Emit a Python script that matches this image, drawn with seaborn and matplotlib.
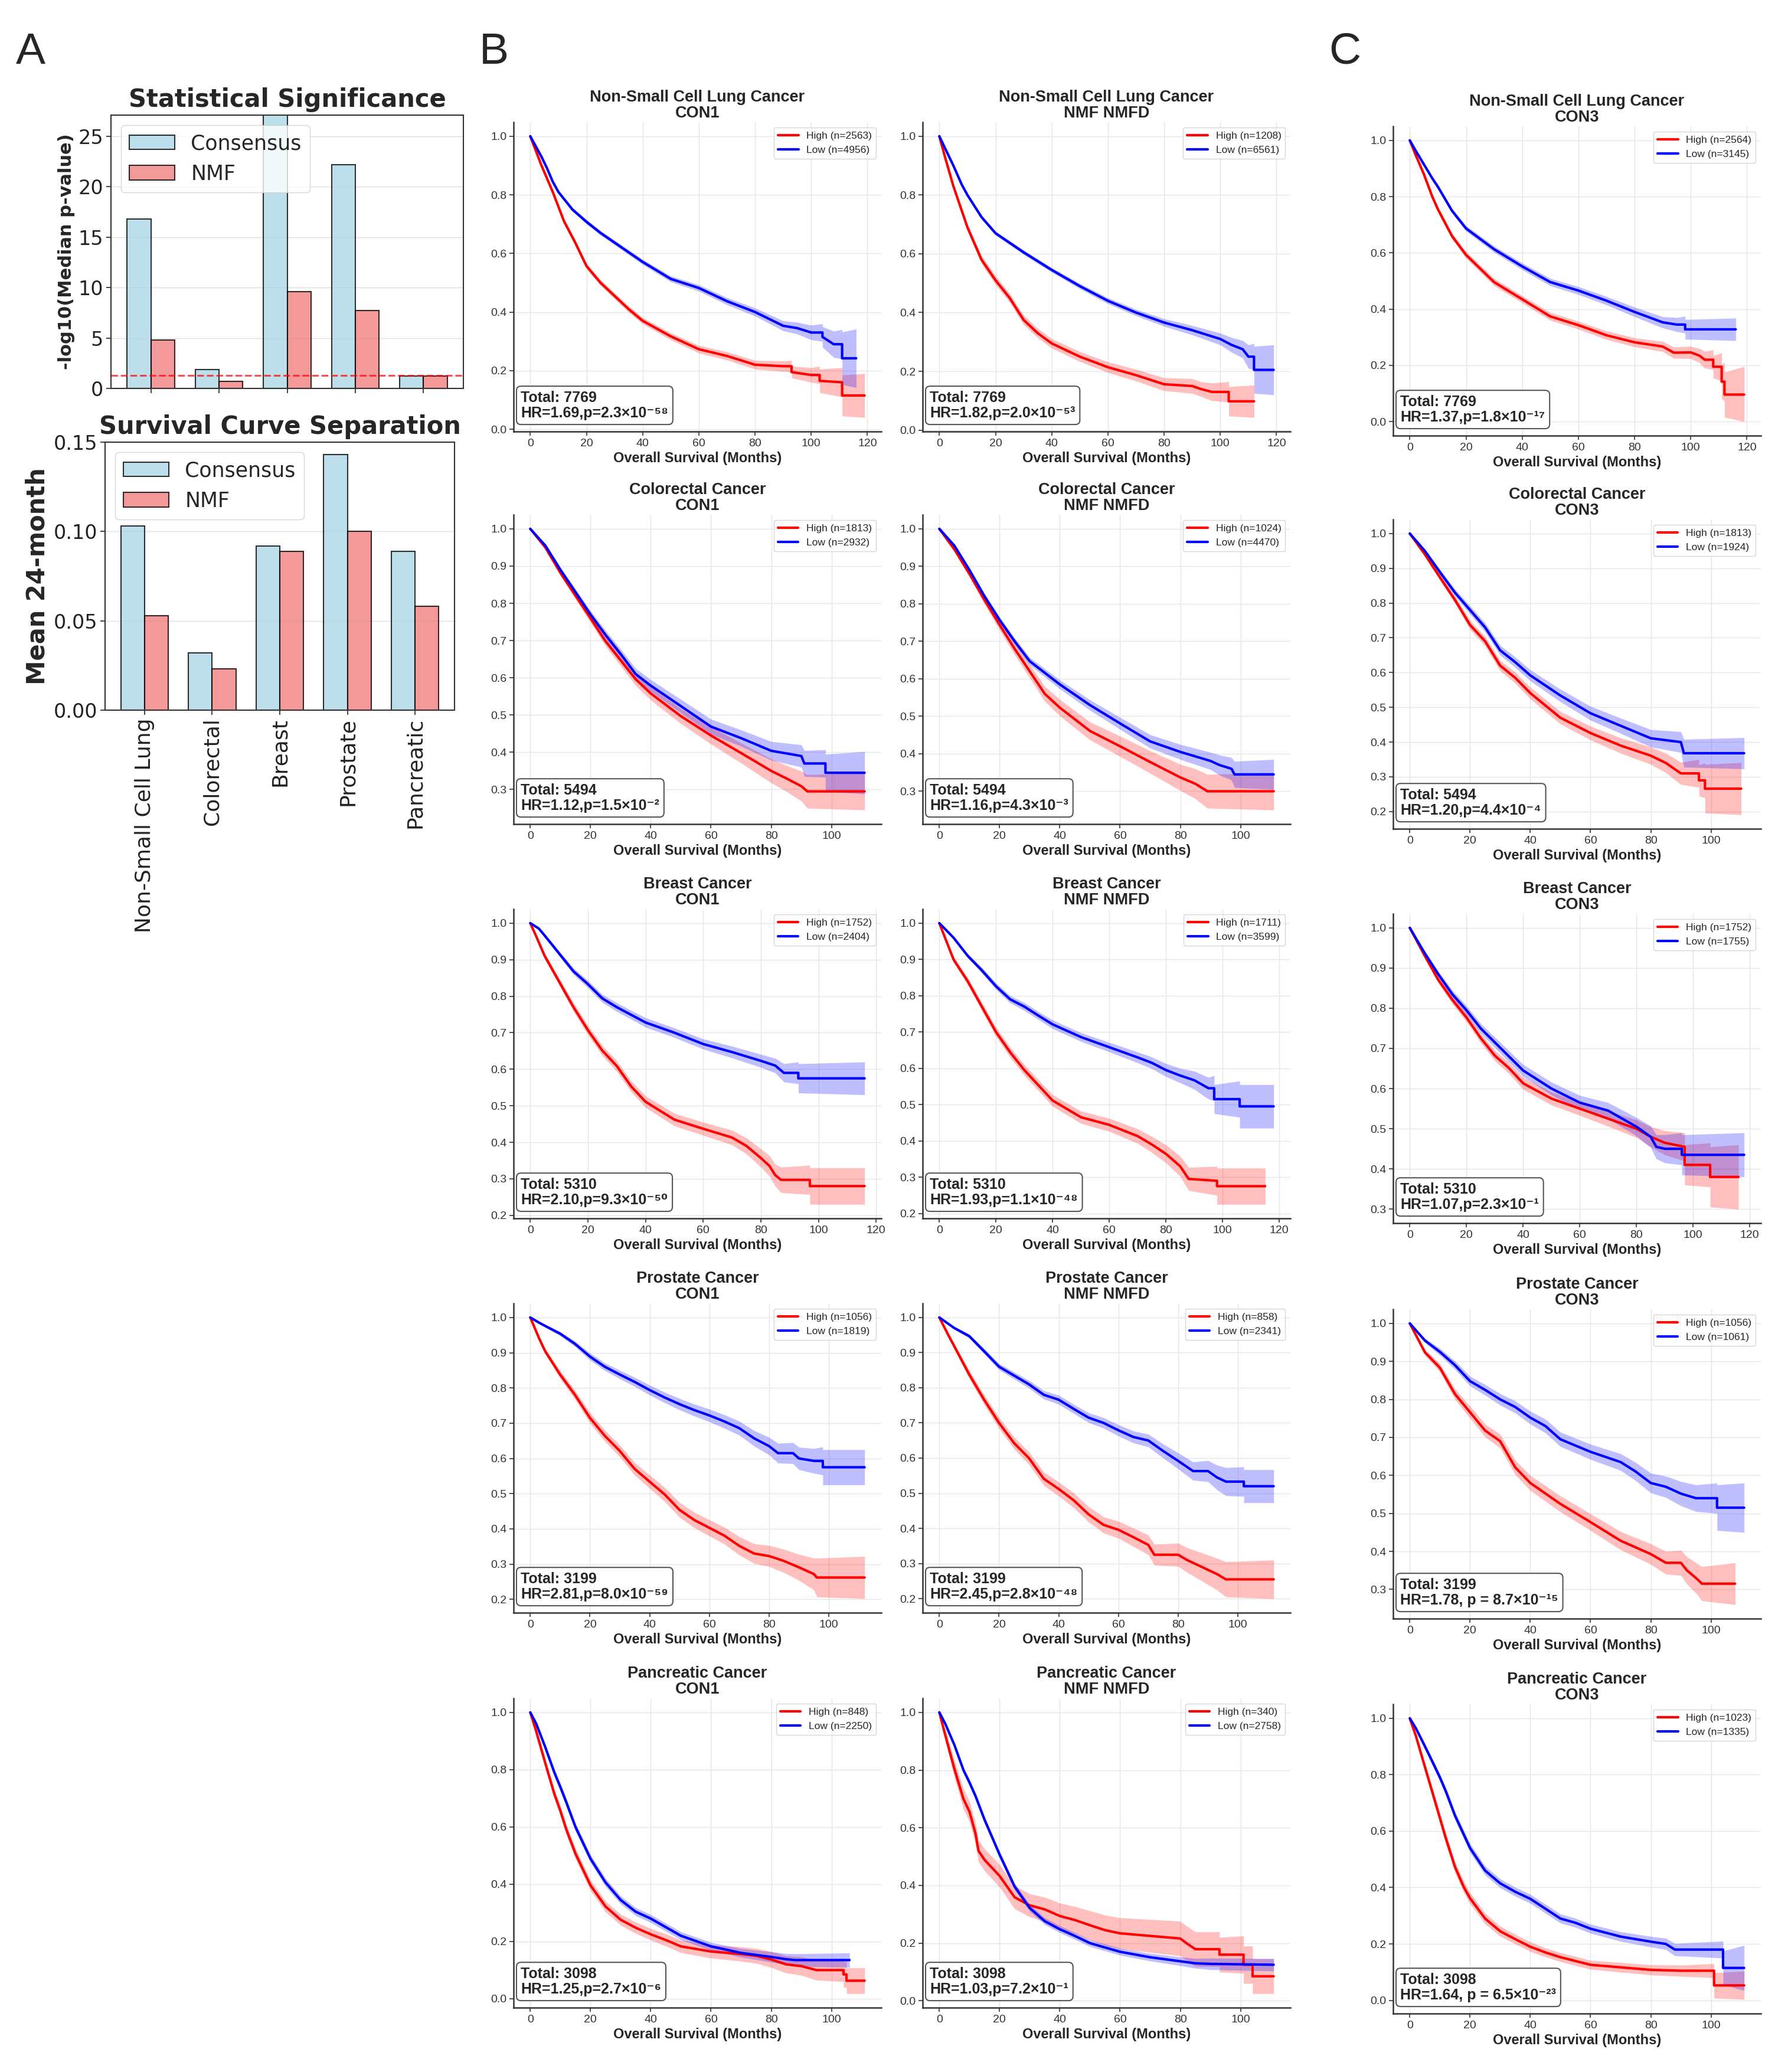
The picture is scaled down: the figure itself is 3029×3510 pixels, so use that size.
import pandas as pd
import seaborn as sns
import matplotlib
matplotlib.use("Agg")
from matplotlib import pyplot as plt
from matplotlib.ticker import MultipleLocator

# ---- panel A data ----
cancers = ["Non-Small Cell Lung", "Colorectal", "Breast", "Prostate", "Pancreatic"]
methods = ["Consensus", "NMF"]
neglog_p_consensus = [16.8, 1.9, 29.0, 22.2, 1.2]
neglog_p_nmf = [4.8, 0.7, 9.6, 7.7, 1.2]
sep24_consensus = [0.103, 0.032, 0.092, 0.143, 0.089]
sep24_nmf = [0.053, 0.023, 0.089, 0.100, 0.058]
p_cutoff = 1.301  # -log10(0.05)

# ---- panel B/C annotations ----
row_names = ["Non-Small Cell Lung Cancer", "Colorectal Cancer", "Breast Cancer",
             "Prostate Cancer", "Pancreatic Cancer"]
schemes = ["CON1", "NMF NMFD", "CON3"]
n_total = [7769, 5494, 5310, 3199, 3098]
n_high = [[2563, 1208, 2564], [1813, 1024, 1813], [1752, 1711, 1752],
          [1056, 858, 1056], [848, 340, 1023]]
n_low = [[4956, 6561, 3145], [2932, 4470, 1924], [2404, 3599, 1755],
         [1819, 2341, 1061], [2250, 2758, 1335]]
hr_vals = [["1.69", "1.82", "1.37"], ["1.12", "1.16", "1.20"], ["2.10", "1.93", "1.07"],
           ["2.81", "2.45", "1.78"], ["1.25", "1.03", "1.64"]]
p_mant = [["2.3", "2.0", "1.8"], ["1.5", "4.3", "4.4"], ["9.3", "1.1", "2.3"],
          ["8.0", "2.8", "8.7"], ["2.7", "7.2", "6.5"]]
p_exp = [["-58", "-53", "-17"], ["-2", "-3", "-4"], ["-50", "-48", "-1"],
         ["-59", "-48", "-15"], ["-6", "-1", "-23"]]
spaced_p = [[False, False, False], [False, False, False], [False, False, False],
            [False, False, True], [False, False, True]]

# ---- Kaplan-Meier curves: (month, survival, CI half-width) ----
nsclc_con1_high = [(0, 1.0, 0), (2, 0.95, .004), (4, 0.90, .006), (6, 0.855, .007), (8, 0.81, .008),
                   (10, 0.76, .008), (12, 0.71, .009), (16, 0.637, .01),
                   (20, 0.557, .01), (25, 0.50, .01), (30, 0.455, .01), (35, 0.41, .011), (40, 0.37, .011),
                   (50, 0.317, .012), (60, 0.273, .013), (70, 0.25, .014), (80, 0.22, .015), (90, 0.215, .018),
                   (93, 0.215, .02), (93, 0.195, .02), (100, 0.185, .025), (103, 0.185, .03), (103, 0.165, .04),
                   (111, 0.16, .05), (111, 0.115, .07), (119, 0.115, .075)]
nsclc_con1_low = [(0, 1.0, 0), (2, 0.965, .003), (4, 0.93, .004), (6, 0.89, .005), (8, 0.845, .005),
                  (10, 0.81, .006), (15, 0.75, .007), (20, 0.708, .008),
                  (25, 0.67, .008), (30, 0.637, .008), (40, 0.571, .009), (50, 0.513, .01), (60, 0.482, .011),
                  (70, 0.437, .012), (80, 0.40, .014), (90, 0.353, .017), (95, 0.345, .02), (100, 0.33, .025),
                  (104, 0.33, .03), (104, 0.315, .035), (108, 0.29, .045), (111, 0.29, .05), (111, 0.242, .09),
                  (116, 0.242, .1)]
nsclc_nmf_high = [(0, 1.0, 0), (2, 0.93, .006), (5, 0.83, .01), (10, 0.69, .012), (15, 0.58, .014),
                  (20, 0.51, .015), (25, 0.45, .015), (30, 0.375, .016), (35, 0.33, .016), (40, 0.295, .016),
                  (50, 0.25, .017), (60, 0.214, .018),
                  (70, 0.187, .02), (80, 0.156, .022), (90, 0.15, .025), (93, 0.14, .025), (97, 0.13, .03),
                  (103, 0.13, .035), (103, 0.098, .05), (112, 0.098, .055)]
nsclc_nmf_low = [(0, 1.0, 0), (2, 0.96, .003), (5, 0.90, .005), (8, 0.835, .006), (10, 0.80, .006),
                 (15, 0.725, .007), (20, 0.67, .007),
                 (30, 0.605, .008), (40, 0.545, .008), (50, 0.49, .009), (60, 0.44, .01), (70, 0.40, .011),
                 (80, 0.366, .013), (90, 0.34, .016), (100, 0.31, .02), (104, 0.29, .025), (108, 0.275, .03),
                 (110, 0.25, .04), (112, 0.25, .045), (112, 0.205, .08), (119, 0.205, .085)]
nsclc_con3_high = [(0, 1.0, 0), (2, 0.95, .005), (5, 0.88, .008), (8, 0.80, .009), (10, 0.755, .01),
                   (15, 0.66, .011), (20, 0.593, .012),
                   (30, 0.496, .013), (40, 0.435, .013), (50, 0.374, .014), (60, 0.343, .014), (70, 0.307, .015),
                   (80, 0.282, .016), (90, 0.267, .018), (94, 0.245, .02), (100, 0.246, .022), (103, 0.235, .025),
                   (105, 0.22, .03), (108, 0.22, .035), (108, 0.195, .04), (111, 0.195, .05), (111, 0.142, .06),
                   (112, 0.142, .07), (112, 0.096, .08), (119, 0.096, .1)]
nsclc_con3_low = [(0, 1.0, 0), (2, 0.965, .004), (5, 0.915, .006), (8, 0.865, .007), (10, 0.835, .008),
                  (15, 0.75, .009), (20, 0.687, .01),
                  (30, 0.613, .011), (40, 0.552, .012), (50, 0.496, .013), (60, 0.466, .014), (70, 0.43, .015),
                  (80, 0.39, .017), (90, 0.353, .02), (95, 0.345, .025), (98, 0.345, .03), (98, 0.328, .035),
                  (116, 0.328, .04)]

crc_con1_high = [(0, 1.0, 0), (5, 0.95, .005), (10, 0.882, .008), (15, 0.821, .01), (20, 0.76, .012),
                 (25, 0.698, .013), (30, 0.647, .015), (35, 0.596, .017), (40, 0.558, .018), (50, 0.497, .02),
                 (60, 0.445, .023), (70, 0.398, .027), (80, 0.35, .032), (85, 0.33, .035), (90, 0.309, .04),
                 (92, 0.295, .045), (111, 0.295, .05)]
crc_con1_low = [(0, 1.0, 0), (5, 0.955, .005), (10, 0.89, .007), (15, 0.83, .009), (20, 0.77, .01),
                (25, 0.715, .012), (30, 0.664, .013), (35, 0.61, .015), (40, 0.579, .016), (50, 0.524, .018),
                (60, 0.469, .02), (70, 0.438, .022), (80, 0.404, .025), (90, 0.39, .03), (91, 0.37, .035),
                (98, 0.37, .037), (98, 0.345, .05), (111, 0.345, .057)]
crc_nmf_high = [(0, 1.0, 0), (5, 0.945, .006), (10, 0.88, .009), (15, 0.81, .012), (20, 0.744, .014),
                (25, 0.68, .016), (30, 0.62, .018), (35, 0.56, .02), (40, 0.523, .022), (50, 0.461, .024),
                (60, 0.42, .027), (70, 0.378, .03), (80, 0.337, .035), (85, 0.32, .04), (89, 0.30, .045),
                (111, 0.30, .05)]
crc_nmf_low = [(0, 1.0, 0), (5, 0.955, .004), (10, 0.89, .006), (15, 0.82, .007), (20, 0.757, .008),
               (25, 0.70, .009), (30, 0.647, .01),
               (40, 0.585, .012), (50, 0.53, .014), (60, 0.481, .016), (70, 0.433, .018), (80, 0.405, .02),
               (90, 0.381, .023), (93, 0.37, .027), (97, 0.36, .03), (98, 0.345, .035), (111, 0.345, .04)]
crc_con3_high = [(0, 1.0, 0), (5, 0.94, .006), (10, 0.874, .009), (15, 0.809, .011), (20, 0.737, .013),
                 (25, 0.69, .014), (30, 0.62, .015), (35, 0.585, .016), (40, 0.541, .017), (50, 0.47, .018),
                 (60, 0.426, .02), (70, 0.39, .022), (80, 0.361, .025), (85, 0.34, .028), (90, 0.31, .032),
                 (96, 0.31, .04), (96, 0.29, .045), (98, 0.29, .05), (98, 0.266, .07), (110, 0.266, .075)]
crc_con3_low = [(0, 1.0, 0), (5, 0.95, .005), (10, 0.889, .008), (15, 0.83, .01), (20, 0.78, .012),
                (25, 0.73, .013), (30, 0.664, .014), (35, 0.63, .015), (40, 0.592, .016), (50, 0.534, .018),
                (60, 0.483, .02), (70, 0.447, .022), (80, 0.411, .025), (90, 0.40, .03), (91, 0.368, .04),
                (111, 0.368, .045)]

breast_con1_high = [(0, 1.0, 0), (2, 0.965, .004), (5, 0.91, .008), (10, 0.84, .01), (15, 0.77, .012),
                    (20, 0.707, .013), (25, 0.651, .014), (30, 0.609, .015), (35, 0.553, .015), (40, 0.511, .016),
                    (50, 0.462, .017), (60, 0.437, .018), (70, 0.413, .02), (75, 0.39, .022), (80, 0.357, .025),
                    (83, 0.335, .028), (85, 0.31, .03), (87, 0.297, .035), (97, 0.297, .04), (97, 0.28, .05),
                    (116, 0.28, .05)]
breast_con1_low = [(0, 1.0, 0), (3, 0.985, .003), (5, 0.966, .005), (10, 0.917, .007), (15, 0.868, .009),
                   (20, 0.833, .01), (25, 0.794, .011), (30, 0.77, .012), (35, 0.749, .012), (40, 0.728, .013),
                   (50, 0.70, .013), (60, 0.669, .014), (70, 0.647, .016), (80, 0.623, .018), (85, 0.61, .02),
                   (88, 0.59, .025), (93, 0.59, .03), (93, 0.575, .04), (116, 0.575, .045)]
breast_nmf_high = [(0, 1.0, 0), (2, 0.96, .004), (5, 0.90, .008), (10, 0.84, .01), (15, 0.77, .012),
                   (20, 0.70, .013),
                   (25, 0.644, .014), (30, 0.595, .015), (35, 0.553, .015), (40, 0.511, .016), (50, 0.465, .017),
                   (60, 0.444, .018), (70, 0.413, .02), (75, 0.39, .022), (80, 0.364, .025), (85, 0.33, .028),
                   (88, 0.295, .032), (98, 0.29, .04), (98, 0.275, .05), (115, 0.275, .05)]
breast_nmf_low = [(0, 1.0, 0), (5, 0.96, .004), (10, 0.91, .006), (15, 0.87, .008), (20, 0.826, .009),
                  (25, 0.79, .01), (30, 0.77, .011), (35, 0.745, .011), (40, 0.721, .012), (50, 0.686, .012),
                  (60, 0.658, .013), (70, 0.63, .015), (75, 0.615, .016), (80, 0.595, .018), (85, 0.58, .02),
                  (90, 0.567, .025), (95, 0.545, .03), (97, 0.545, .035), (97, 0.515, .04), (106, 0.515, .05),
                  (106, 0.495, .06), (118, 0.495, .06)]
breast_con3_high = [(0, 1.0, 0), (5, 0.934, .006), (10, 0.871, .008), (15, 0.821, .01), (20, 0.777, .011),
                    (25, 0.726, .012), (30, 0.682, .013), (35, 0.651, .014), (40, 0.613, .015), (50, 0.575, .016),
                    (60, 0.55, .017), (70, 0.525, .019), (80, 0.50, .022), (85, 0.48, .025), (90, 0.465, .03),
                    (97, 0.455, .035), (97, 0.41, .05), (106, 0.41, .055), (106, 0.38, .075), (116, 0.38, .08)]
breast_con3_low = [(0, 1.0, 0), (5, 0.94, .006), (10, 0.885, .008), (15, 0.835, .01), (20, 0.795, .011),
                   (25, 0.75, .012), (30, 0.715, .013), (35, 0.68, .014), (40, 0.645, .015), (50, 0.60, .016),
                   (60, 0.565, .018), (70, 0.545, .02), (80, 0.505, .023), (85, 0.48, .027), (87, 0.455, .03),
                   (90, 0.45, .035), (96, 0.45, .04), (96, 0.435, .05), (118, 0.435, .055)]

prostate_con1_high = [(0, 1.0, 0), (3, 0.94, .006), (5, 0.904, .008), (10, 0.838, .011), (15, 0.78, .013),
                      (20, 0.715, .015), (25, 0.664, .016), (30, 0.621, .017), (35, 0.57, .018), (40, 0.534, .019),
                      (45, 0.498, .02), (50, 0.454, .021), (55, 0.425, .022), (60, 0.403, .023), (65, 0.381, .024),
                      (70, 0.352, .026), (75, 0.33, .028), (80, 0.323, .03), (85, 0.309, .033), (90, 0.291, .037),
                      (95, 0.272, .045), (96, 0.262, .055), (112, 0.262, .06)]
prostate_con1_low = [(0, 1.0, 0), (3, 0.985, .003), (5, 0.976, .004), (10, 0.954, .006), (15, 0.925, .008),
                     (20, 0.889, .01), (25, 0.86, .011), (30, 0.838, .012), (35, 0.817, .013), (40, 0.794, .014),
                     (45, 0.773, .015), (50, 0.754, .016), (55, 0.737, .017), (60, 0.722, .018), (65, 0.705, .019),
                     (70, 0.686, .02), (75, 0.657, .022), (80, 0.635, .025), (83, 0.615, .028), (88, 0.615, .03),
                     (90, 0.60, .032), (95, 0.593, .035), (98, 0.593, .04), (98, 0.575, .05), (112, 0.575, .05)]
prostate_nmf_high = [(0, 1.0, 0), (3, 0.95, .006), (5, 0.918, .008), (10, 0.838, .012), (15, 0.766, .014),
                     (20, 0.70, .016), (25, 0.643, .017), (30, 0.60, .018), (35, 0.541, .019), (40, 0.512, .02),
                     (45, 0.48, .021), (50, 0.44, .022), (55, 0.41, .023), (60, 0.396, .024), (65, 0.375, .026),
                     (70, 0.353, .028), (72, 0.325, .03), (80, 0.325, .033), (83, 0.31, .035), (88, 0.29, .04),
                     (93, 0.27, .045), (96, 0.255, .05), (112, 0.255, .055)]
prostate_nmf_low = [(0, 1.0, 0), (5, 0.97, .004), (10, 0.947, .006), (15, 0.904, .008), (20, 0.86, .009),
                    (25, 0.835, .01), (30, 0.81, .011), (35, 0.78, .012), (40, 0.766, .013), (45, 0.74, .013),
                    (50, 0.715, .014), (55, 0.70, .015), (60, 0.679, .016), (65, 0.66, .017), (70, 0.65, .018),
                    (75, 0.62, .02), (80, 0.592, .023), (85, 0.563, .026), (90, 0.563, .03), (93, 0.545, .035),
                    (96, 0.533, .04), (102, 0.533, .042), (102, 0.52, .047), (112, 0.52, .047)]
prostate_con3_high = [(0, 1.0, 0), (5, 0.924, .008), (10, 0.883, .011), (15, 0.814, .014), (20, 0.766, .016),
                      (25, 0.718, .017), (30, 0.69, .018), (35, 0.621, .019), (40, 0.58, .02), (50, 0.525, .021),
                      (60, 0.477, .022), (70, 0.428, .024), (80, 0.393, .027), (85, 0.37, .03), (90, 0.37, .033),
                      (92, 0.35, .036), (95, 0.33, .04), (97, 0.315, .045), (108, 0.315, .055)]
prostate_con3_low = [(0, 1.0, 0), (5, 0.955, .006), (10, 0.925, .009), (15, 0.89, .011), (20, 0.848, .013),
                     (25, 0.825, .014), (30, 0.80, .015), (35, 0.78, .016), (40, 0.752, .017), (45, 0.73, .018),
                     (50, 0.695, .019), (60, 0.662, .02), (70, 0.635, .022), (75, 0.61, .024), (80, 0.58, .026),
                     (85, 0.57, .028), (90, 0.552, .032), (95, 0.54, .035), (102, 0.54, .04), (102, 0.515, .06),
                     (111, 0.515, .065)]

panc_con1_high = [(0, 1.0, 0), (2, 0.933, .01), (5, 0.822, .015), (8, 0.715, .017), (10, 0.656, .018),
                  (12, 0.59, .018), (15, 0.507, .019), (20, 0.396, .019), (25, 0.322, .019), (30, 0.276, .019),
                  (35, 0.248, .02), (40, 0.225, .02), (45, 0.205, .021), (50, 0.183, .022), (60, 0.165, .023),
                  (70, 0.156, .025), (75, 0.15, .026), (80, 0.137, .028), (85, 0.12, .03), (90, 0.114, .032),
                  (95, 0.10, .035), (104, 0.10, .04), (104, 0.085, .045), (105, 0.085, .045), (105, 0.063, .045),
                  (111, 0.063, .045)]
panc_con1_low = [(0, 1.0, 0), (2, 0.96, .006), (5, 0.878, .01), (8, 0.79, .012), (10, 0.739, .013),
                 (12, 0.685, .014), (15, 0.60, .014), (20, 0.489, .014), (25, 0.406, .014), (30, 0.345, .014),
                 (35, 0.304, .014), (40, 0.28, .014), (45, 0.25, .014), (50, 0.22, .014), (60, 0.183, .014),
                 (70, 0.16, .015), (80, 0.146, .018), (85, 0.138, .02), (88, 0.135, .022), (106, 0.135, .025)]
panc_nmf_high = [(0, 1.0, 0), (2, 0.92, .02), (5, 0.804, .03), (8, 0.70, .035), (10, 0.656, .036),
                 (12, 0.58, .037), (13, 0.52, .038), (15, 0.489, .038), (20, 0.433, .039), (25, 0.359, .04),
                 (30, 0.331, .04), (35, 0.317, .042), (40, 0.294, .045), (45, 0.28, .047), (50, 0.262, .05),
                 (55, 0.245, .052), (60, 0.234, .054), (70, 0.225, .057), (80, 0.216, .06), (82, 0.20, .06),
                 (85, 0.179, .06), (93, 0.179, .06), (93, 0.16, .06), (101, 0.16, .065), (101, 0.125, .065),
                 (104, 0.125, .065), (104, 0.085, .06), (111, 0.085, .06)]
panc_nmf_low = [(0, 1.0, 0), (2, 0.96, .005), (5, 0.887, .008), (8, 0.80, .01), (10, 0.757, .011),
                (12, 0.71, .012), (15, 0.628, .012), (20, 0.507, .012), (25, 0.396, .012), (30, 0.322, .012),
                (35, 0.276, .012), (40, 0.248, .012), (45, 0.225, .012), (50, 0.20, .012), (60, 0.17, .012),
                (70, 0.151, .013), (80, 0.137, .015), (85, 0.13, .017), (90, 0.128, .02), (111, 0.125, .022)]
panc_con3_high = [(0, 1.0, 0), (2, 0.938, .012), (5, 0.828, .016), (8, 0.719, .018), (10, 0.646, .019),
                  (12, 0.573, .02), (15, 0.473, .02), (18, 0.40, .02), (20, 0.362, .02), (25, 0.29, .019),
                  (30, 0.245, .018), (35, 0.217, .017), (40, 0.19, .017), (45, 0.17, .016), (50, 0.153, .016),
                  (60, 0.126, .016), (70, 0.117, .017), (80, 0.108, .018), (90, 0.105, .02), (101, 0.105, .025),
                  (101, 0.053, .045), (111, 0.053, .05)]
panc_con3_low = [(0, 1.0, 0), (2, 0.965, .006), (5, 0.901, .01), (8, 0.835, .012), (10, 0.79, .013),
                 (12, 0.74, .014), (15, 0.655, .015), (20, 0.54, .016), (25, 0.46, .016), (30, 0.415, .016),
                 (35, 0.385, .016), (40, 0.36, .016), (45, 0.325, .016), (50, 0.29, .016), (55, 0.275, .016),
                 (60, 0.254, .016), (70, 0.226, .017), (80, 0.208, .019), (85, 0.20, .02), (88, 0.18, .022),
                 (104, 0.18, .03), (104, 0.115, .06), (111, 0.115, .08)]

km_curves = [
    [(nsclc_con1_high, nsclc_con1_low), (nsclc_nmf_high, nsclc_nmf_low), (nsclc_con3_high, nsclc_con3_low)],
    [(crc_con1_high, crc_con1_low), (crc_nmf_high, crc_nmf_low), (crc_con3_high, crc_con3_low)],
    [(breast_con1_high, breast_con1_low), (breast_nmf_high, breast_nmf_low), (breast_con3_high, breast_con3_low)],
    [(prostate_con1_high, prostate_con1_low), (prostate_nmf_high, prostate_nmf_low),
     (prostate_con3_high, prostate_con3_low)],
    [(panc_con1_high, panc_con1_low), (panc_nmf_high, panc_nmf_low), (panc_con3_high, panc_con3_low)],
]

W, H = 3029, 3510
SUP = str.maketrans("-0123456789", "⁻⁰¹²³⁴⁵⁶⁷⁸⁹")
SANS = ["Liberation Sans", "DejaVu Sans"]

sns.set_style("white")
plt.rcParams["font.family"] = SANS
plt.rcParams["axes.unicode_minus"] = False

fig = plt.figure(figsize=(W / 100, H / 100), dpi=100)


def px_axes(left, top, width, height):
    return fig.add_axes([left / W, 1 - (top + height) / H, width / W, height / H])


# ---------------- panel A ----------------
bar_colors = {"Consensus": "lightblue", "NMF": "lightcoral"}
sig_df = pd.DataFrame({"cancer": cancers * 2,
                       "method": ["Consensus"] * 5 + ["NMF"] * 5,
                       "value": neglog_p_consensus + neglog_p_nmf})
sep_df = pd.DataFrame({"cancer": cancers * 2,
                       "method": ["Consensus"] * 5 + ["NMF"] * 5,
                       "value": sep24_consensus + sep24_nmf})

ax_sig = px_axes(188, 195, 597, 463)
ax_sep = px_axes(178, 749, 592, 454)
for ax, df in [(ax_sig, sig_df), (ax_sep, sep_df)]:
    sns.barplot(data=df, x="cancer", y="value", hue="method", hue_order=methods,
                palette=bar_colors, saturation=1, edgecolor="black", linewidth=1.5, alpha=0.8,
                width=0.7, ax=ax)
    ax.set_xlim(-0.585, 4.585)
    ax.grid(axis="y", color="#dddddd", lw=1)
    ax.set_axisbelow(True)
    for sp in ax.spines.values():
        sp.set_visible(True)
        sp.set_color("#333333")
        sp.set_linewidth(1.5)
    ax.tick_params(labelsize=24, labelfontfamily="DejaVu Sans", length=6, width=1.2,
                   bottom=True, left=True, colors="#222222")
    h, l = ax.get_legend_handles_labels()
    ax.legend(h, l, loc="upper left", prop={"family": "DejaVu Sans", "size": 25},
              handlelength=2.2, borderaxespad=0.5)
    ax.set_xlabel("")

ax_sig.axhline(p_cutoff, color="red", ls="--", lw=2.2, alpha=0.7)
ax_sig.set_ylim(0, 27.1)
ax_sig.yaxis.set_major_locator(MultipleLocator(5))
ax_sig.set_xticklabels([])
ax_sig.set_ylabel("-log10(Median p-value)", fontsize=22, fontweight="bold", family="DejaVu Sans")
ax_sig.set_title("Statistical Significance", fontsize=30, fontweight="bold", family="DejaVu Sans", pad=10)

ax_sep.set_ylim(0, 0.15)
ax_sep.yaxis.set_major_locator(MultipleLocator(0.05))
ax_sep.yaxis.set_major_formatter("{x:.2f}")
ax_sep.tick_params(axis="x", labelrotation=90, labelsize=26)
ax_sep.set_ylabel("Mean 24-month", fontsize=30, fontweight="bold", family="DejaVu Sans")
ax_sep.set_title("Survival Curve Separation", fontsize=30, fontweight="bold", family="DejaVu Sans", pad=10)

# ---------------- panels B and C ----------------
col_left = [870, 1563, 2360]
row_top_b = [207, 872, 1540, 2208, 2877]
row_top_c = [214, 880, 1548, 2218, 2887]
ax_w, ax_h = 623, 524


def km_frame(curve, label):
    df = pd.DataFrame(curve, columns=["month", "surv", "ci"])
    df["lower"] = (df["surv"] - df["ci"]).clip(lower=0)
    df["upper"] = (df["surv"] + df["ci"]).clip(upper=1)
    df["group"] = label
    return df


for r in range(5):
    for c in range(3):
        top = row_top_c[r] if c == 2 else row_top_b[r]
        ax = px_axes(col_left[c], top, ax_w, ax_h)
        high, low = km_curves[r][c]
        lab_hi = f"High (n={n_high[r][c]})"
        lab_lo = f"Low (n={n_low[r][c]})"
        df_hi = km_frame(high, lab_hi)
        df_lo = km_frame(low, lab_lo)
        ax.fill_between(df_hi["month"], df_hi["lower"], df_hi["upper"], color="red", alpha=0.25, lw=0)
        ax.fill_between(df_lo["month"], df_lo["lower"], df_lo["upper"], color="blue", alpha=0.25, lw=0)
        km_df = pd.concat([df_hi, df_lo], ignore_index=True)
        sns.lineplot(data=km_df, x="month", y="surv", hue="group", hue_order=[lab_hi, lab_lo],
                     palette=["red", "blue"], sort=False, estimator=None, lw=3, ax=ax)
        ax.margins(x=0.05, y=0.05)
        ax.autoscale_view()
        ymin = ax.get_ylim()[0]
        ax.yaxis.set_major_locator(MultipleLocator(0.2 if ymin < 0.1 else 0.1))
        ax.xaxis.set_major_locator(MultipleLocator(20))
        ax.yaxis.set_major_formatter("{x:.1f}")
        ax.grid(True, color="#e6e6e6", lw=1)
        ax.set_axisbelow(True)
        sns.despine(ax=ax)
        for sp in ("left", "bottom"):
            ax.spines[sp].set_color("#333333")
            ax.spines[sp].set_linewidth(1.8)
        ax.tick_params(labelsize=14, colors="#333333", length=5, width=1.2, bottom=True, left=True)
        ax.set_ylabel("")
        ax.set_xlabel("Overall Survival (Months)", fontsize=17, fontweight="bold")
        ax.set_title(f"{row_names[r]}\n{schemes[c]}", fontsize=19.5, fontweight="bold", linespacing=1.05)
        h, l = ax.get_legend_handles_labels()
        for hd in h:
            hd.set_linewidth(3)
        ax.legend(h, l, loc="upper right", fontsize=12.5, frameon=True, handlelength=2.0)
        sep = ", p = " if spaced_p[r][c] else ",p="
        box = (f"Total: {n_total[r]}\nHR={hr_vals[r][c]}{sep}{p_mant[r][c]}×10"
               f"{p_exp[r][c].translate(SUP)}")
        ax.text(0.02, 0.037, box, transform=ax.transAxes, fontsize=18, fontweight="bold",
                family=SANS, va="bottom", ha="left", linespacing=1.1,
                bbox=dict(boxstyle="round,pad=0.3", facecolor="white", edgecolor="#555555", lw=1.5))

# panel letters
for letter, x in [("A", 27), ("B", 812), ("C", 2251)]:
    fig.text(x / W, 1 - 108 / H, letter, fontsize=54, family=SANS, ha="left", va="baseline")

fig.savefig("out.png", dpi=100)
